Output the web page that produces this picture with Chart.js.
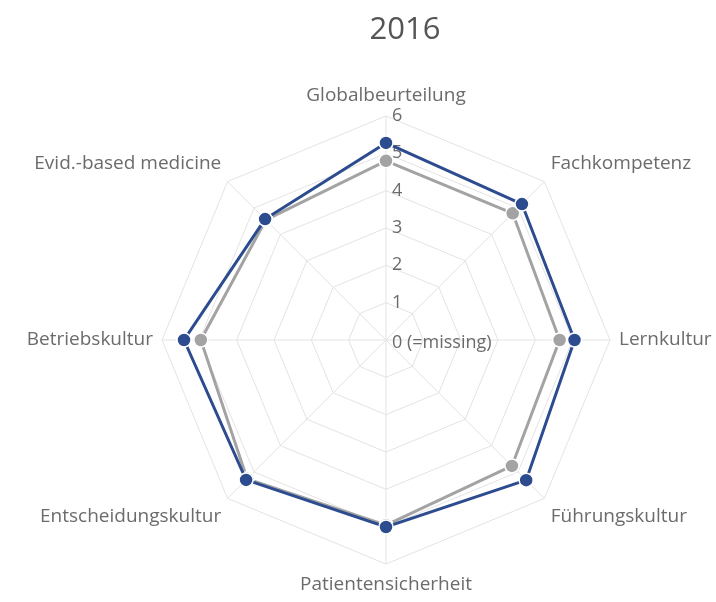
<!DOCTYPE html>
<html>
<head>
<meta charset="utf-8">
<script src="https://cdn.jsdelivr.net/npm/chart.js@4.4.0/dist/chart.umd.min.js"></script>
<style>
    html, body { margin: 0; padding: 0; background: #fff; overflow: hidden; }
    #chart-holder { width: 716px; height: 602px; }
</style>
</head>
<body>
<div id="chart-holder"><canvas id="radar-chart" width="716" height="602"></canvas></div>
<script>
const TITLE = '2016';

const categories = ['Globalbeurteilung', 'Fachkompetenz', 'Lernkultur', 'Führungskultur',
    'Patientensicherheit', 'Entscheidungskultur', 'Betriebskultur', 'Evid.-based medicine'];

// dark blue series (drawn on top)
const blueValues = [5.28, 5.15, 5.05, 5.31, 5.01, 5.3, 5.41, 4.58];
// grey series
const greyValues = [4.8, 4.8, 4.65, 4.77, 4.96, 5.26, 4.96, 4.55];

const tickLabels = ['0 (=missing)', '1', '2', '3', '4', '5', '6'];

const BLUE = '#2c4c8f';
const GREY = '#a3a3a3';
const TEXT = '#6b6b6b';
const CENTER_SHIFT = 19;   // radar sits a bit left of the title centre
const LABEL_FONT = 19;
const TICK_FONT = 18;


// tick labels sit to the right of the vertical axis, point labels around the web
const radarLabels = {
    id: 'radarLabels',
    beforeDatasetsDraw(chart) {
        const scale = chart.scales.r;
        const ctx = chart.ctx;
        ctx.save();

        ctx.fillStyle = TEXT;
        ctx.textBaseline = 'middle';
        ctx.textAlign = 'left';
        ctx.font = TICK_FONT + 'px "Open Sans"';
        scale.ticks.forEach((tick) => {
            const y = scale.yCenter - scale.getDistanceFromCenterForValue(tick.value);
            ctx.fillText(tickLabels[tick.value], scale.xCenter + 6, y + (tick.value === 0 ? 3 : 0));
        });

        ctx.font = LABEL_FONT + 'px "Open Sans"';
        const lineH = LABEL_FONT * 1.2;
        categories.forEach((label, i) => {
            const pos = scale.getPointPosition(i, scale.drawingArea + 9);
            const angle = Math.round(scale.getIndexAngle(i) * 180 / Math.PI) % 360;
            let align = 'center';
            if (angle > 0 && angle < 180) align = 'left';
            if (angle > 180) align = 'right';
            let top = pos.y;
            if (angle === 90 || angle === 270) {
                top -= lineH / 2;
            } else if (angle > 270 || angle < 90) {
                top -= lineH;
            }
            ctx.textAlign = align;
            ctx.fillText(label, pos.x, top + lineH / 2);
        });

        ctx.restore();
    }
};


let ctx = document.getElementById('radar-chart').getContext('2d');

let radarChart = new Chart(ctx, {
    type: 'radar',
    data: {
        labels: categories,
        datasets: [{
            data: blueValues,
            borderColor: BLUE,
            backgroundColor: BLUE,
            pointBackgroundColor: BLUE,
            pointBorderColor: '#fff',
            pointBorderWidth: 1.5,
            pointRadius: 7,
            borderWidth: 3,
            fill: false,
        }, {
            data: greyValues,
            borderColor: GREY,
            backgroundColor: GREY,
            pointBackgroundColor: GREY,
            pointBorderColor: '#fff',
            pointBorderWidth: 1.5,
            pointRadius: 7,
            borderWidth: 3,
            fill: false,
        }]
    },
    plugins: [radarLabels],
    options: {
        responsive: false,
        devicePixelRatio: 1,
        animation: false,
        layout: {
            padding: {top: 10, bottom: 37, left: 94, right: 0}
        },
        plugins: {
            legend: {display: false},
            tooltip: {enabled: false},
            title: {
                display: true,
                text: TITLE,
                color: '#555',
                font: {family: 'Open Sans', size: 31, weight: 'normal'},
                padding: {top: 2, bottom: 66}
            }
        },
        elements: {
            line: {tension: 0}
        },
        scales: {
            r: {
                min: 0,
                max: 6,
                ticks: {stepSize: 1, display: false},
                pointLabels: {display: false},
                grid: {color: '#e3e3e3', lineWidth: 1},
                angleLines: {color: '#e3e3e3', lineWidth: 1},
                afterFit: (scale) => {
                    scale.xCenter -= CENTER_SHIFT;
                }
            }
        }
    }
});
</script>
</body>
</html>
